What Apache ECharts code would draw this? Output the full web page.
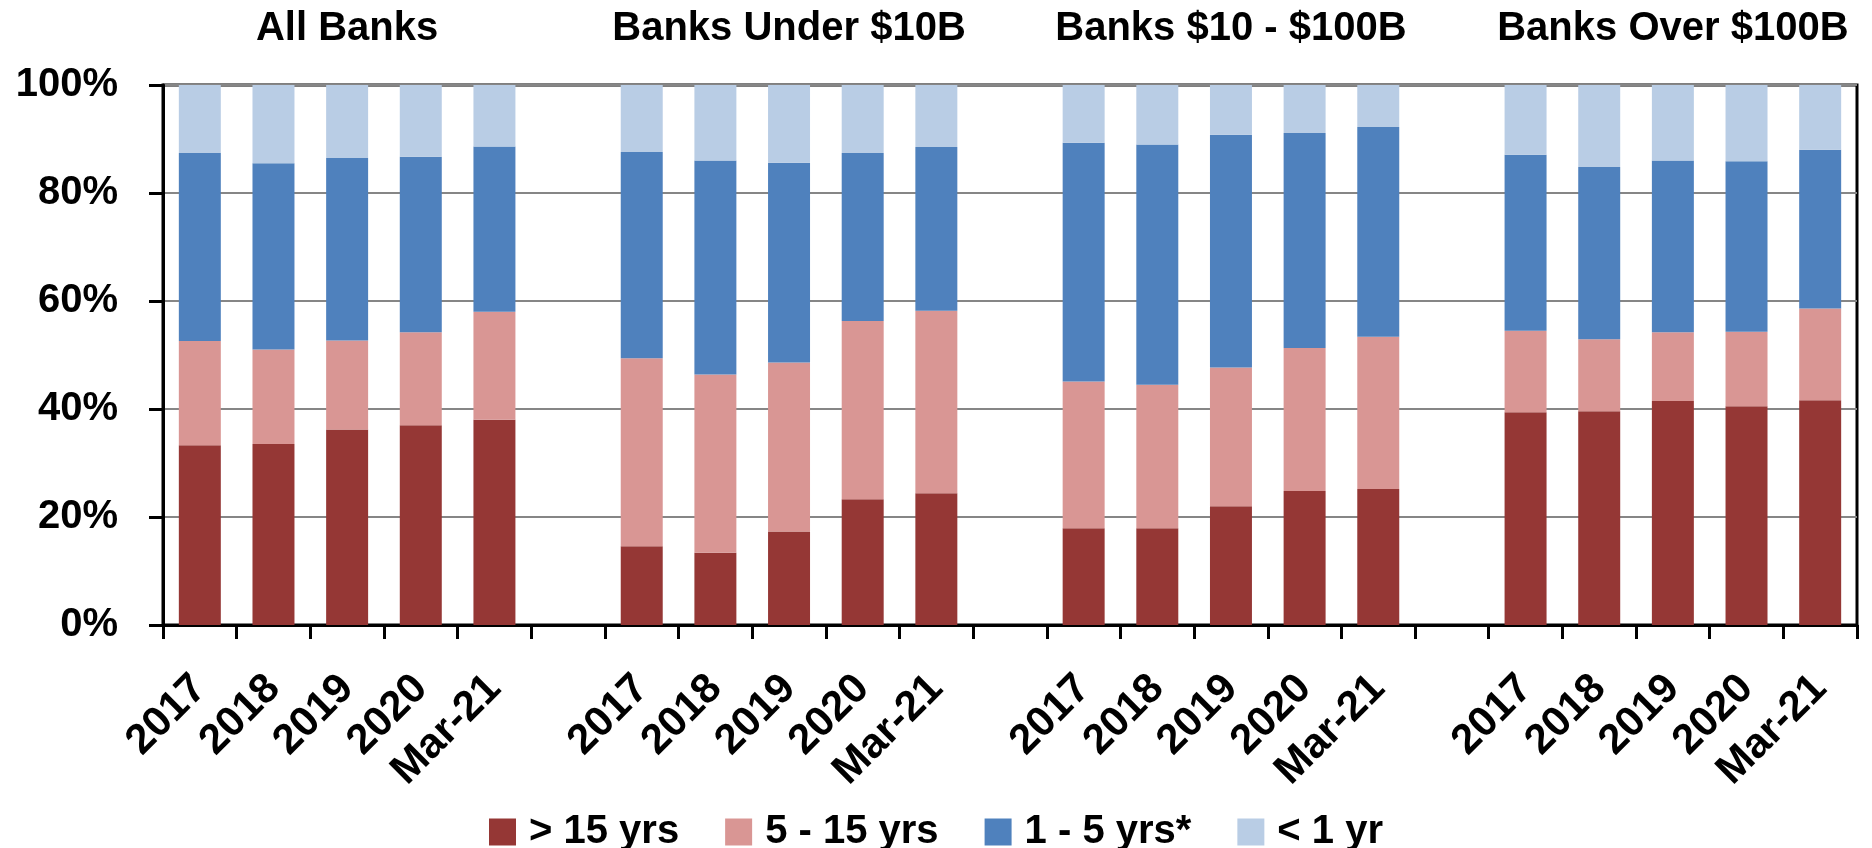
<!DOCTYPE html>
<html><head><meta charset="utf-8">
<script src="https://cdn.jsdelivr.net/npm/echarts@6/dist/echarts.min.js"></script>
<style>html,body{margin:0;padding:0;background:#fff}#c{width:1872px;height:848px}</style>
</head><body><div id="c"></div>
<script>
// Group titles and period tick labels
const groups = ['All Banks', 'Banks Under $10B', 'Banks $10 - $100B', 'Banks Over $100B'];
const periods = ['2017', '2018', '2019', '2020', 'Mar-21'];
const seriesNames = ['> 15 yrs', '5 - 15 yrs', '1 - 5 yrs*', '< 1 yr'];

// Shares (%) per bar, group by group (All, <$10B, $10-$100B, >$100B), 5 periods each
const over15 = [33.3, 33.5, 36.2, 37.0, 38.0,
                14.6, 13.4, 17.3, 23.3, 24.4,
                17.9, 17.9, 22.0, 24.8, 25.2,
                39.4, 39.6, 41.5, 40.5, 41.6];
const from5to15 = [19.3, 17.5, 16.5, 17.2, 20.0,
                   34.8, 33.0, 31.3, 33.0, 33.8,
                   27.2, 26.6, 25.7, 26.5, 28.2,
                   15.1, 13.3, 12.7, 13.8, 17.0];
const from1to5 = [34.8, 34.5, 33.8, 32.5, 30.6,
                  38.2, 39.6, 37.0, 31.1, 30.3,
                  44.2, 44.5, 43.1, 39.8, 38.8,
                  32.6, 31.9, 31.8, 31.6, 29.4];
const under1 = [12.6, 14.5, 13.5, 13.3, 11.4,
                12.4, 14.0, 14.4, 12.6, 11.5,
                10.7, 11.0, 9.2, 8.9, 7.8,
                12.9, 15.2, 14.0, 14.1, 12.0];

const colors = ['#953735', '#D99694', '#4F81BD', '#B9CDE5'];
const FONT = "'Liberation Sans', Arial, sans-serif";

// Build category axis with a blank slot between groups
const categories = [];
groups.forEach((g, gi) => {
  periods.forEach(p => categories.push(p));
  if (gi < groups.length - 1) categories.push('');
});
function withGaps(arr) {
  const out = [];
  groups.forEach((g, gi) => {
    for (let i = 0; i < periods.length; i++) out.push(arr[gi * periods.length + i]);
    if (gi < groups.length - 1) out.push('-');
  });
  return out;
}
const seriesData = [over15, from5to15, from1to5, under1];

const W = 1872, H = 848;
const grid = { left: 163, right: 15, top: 85, bottom: 223 };
const gridW = W - grid.left - grid.right;
const catW = gridW / categories.length;

const titles = groups.map((g, gi) => ({
  text: g,
  left: grid.left + (gi * (periods.length + 1) + periods.length / 2) * catW,
  top: 9,
  padding: 0,
  textAlign: 'center',
  textStyle: { fontFamily: FONT, fontSize: 40, fontWeight: 'bold', color: '#000', lineHeight: 40 }
}));

const chart = echarts.init(document.getElementById('c'), null, { renderer: 'canvas' });
chart.setOption({
  animation: false,
  backgroundColor: '#fff',
  title: titles,
  grid: Object.assign({ show: true, borderColor: '#000', borderWidth: 3, backgroundColor: 'transparent', containLabel: false, outerBoundsMode: 'none' }, grid),
  legend: {
    data: seriesNames,
    top: 807,
    left: 'center',
    itemWidth: 27,
    itemHeight: 27,
    itemGap: 46,
    icon: 'rect',
    textStyle: { fontFamily: FONT, fontSize: 40, fontWeight: 'bold', color: '#000', lineHeight: 40, padding: [0, 0, 0, 8] }
  },
  xAxis: {
    type: 'category',
    data: categories,
    boundaryGap: true,
    axisLine: { show: true, lineStyle: { color: '#000', width: 3 } },
    axisTick: { show: true, interval: 0, length: 14, lineStyle: { color: '#000', width: 3 } },
    axisLabel: { interval: 0, rotate: 45, margin: 57, fontFamily: FONT, fontSize: 42, fontWeight: 'bold', color: '#000' },
    splitLine: { show: false }
  },
  yAxis: {
    type: 'value',
    min: 0, max: 100, interval: 20,
    axisLine: { show: true, lineStyle: { color: '#000', width: 3 } },
    axisTick: { show: true, length: 14, lineStyle: { color: '#000', width: 3 } },
    axisLabel: { formatter: '{value}%', margin: 45, fontFamily: FONT, fontSize: 40, fontWeight: 'bold', color: '#000' },
    splitLine: { show: true, lineStyle: { color: '#868686', width: 2 } }
  },
  series: seriesNames.map((n, i) => ({
    name: n,
    type: 'bar',
    stack: 'total',
    barWidth: '57%',
    itemStyle: { color: colors[i] },
    data: withGaps(seriesData[i])
  }))
});
</script></body></html>
